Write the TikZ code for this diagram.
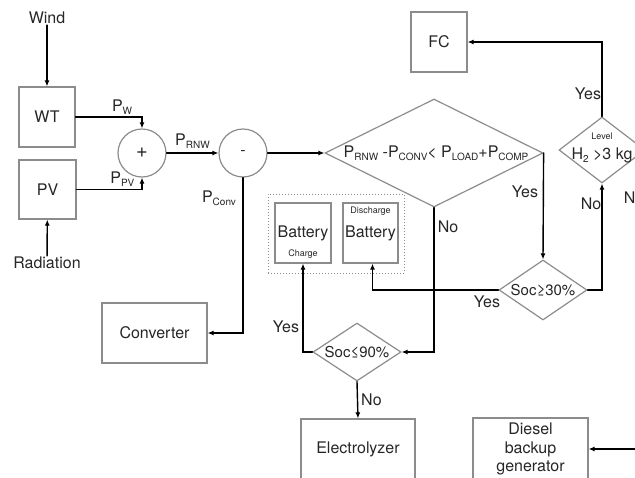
\documentclass[tikz,border=0pt]{standalone}
\usepackage{fontspec}
\setmainfont{TeX Gyre Heros}
\usetikzlibrary{shapes.geometric,arrows.meta}

\tikzset{>={Latex[length=6pt,width=5pt]}}
\colorlet{boxgray}{black!45}
\colorlet{ink}{black!85}
\tikzstyle{block}=[draw=boxgray,line width=1.2pt,inner sep=0pt,text=ink]
\tikzstyle{decision}=[diamond,draw=boxgray,line width=1.2pt,inner sep=0pt,text=ink]
\tikzstyle{junction}=[circle,draw=boxgray,line width=1.2pt,minimum size=48pt,inner sep=0pt,text=ink]
\tikzstyle{flow}=[->,line width=1.4pt,line cap=round]
\tikzstyle{lbl}=[text=ink,inner sep=1pt]
\tikzstyle{tiny}=[text=ink,inner sep=0pt,font=\fontsize{9}{10}\selectfont]
\newcommand{\lsub}[1]{\raisebox{-0.35ex}{\fontsize{10}{10}\selectfont #1}}

\begin{document}
\begin{tikzpicture}[x=1pt,y=-1pt,font=\fontsize{16}{20}\selectfont]
  \useasboundingbox (0,0) rectangle (635,477);
  \clip (0,0) rectangle (635,477);
  % sources
  \node[lbl] (wind) at (47,18) {Wind};
  \node[lbl] (rad) at (47,263) {Radiation};
  \node[block,minimum width=56,minimum height=60] (wt) at (47,117) {WT};
  \node[block,minimum width=57,minimum height=59] (pv) at (47.5,189.5) {PV};
  \node[junction,font=\fontsize{20}{20}\selectfont] (plus) at (142,153) {+};
  \node[junction] (minus) at (243,153) {-};
  \node[block,minimum width=105,minimum height=60] (conv) at (154.5,333) {Converter};
  % decisions
  \node[decision,minimum width=218,minimum height=108] (check) at (434,153) {};
  \node[lbl] at ([xshift=2]check.center) {P\lsub{RNW} -P\lsub{CONV}< P\lsub{LOAD}+P\lsub{COMP}};
  \node[decision,minimum width=88,minimum height=60] (soc30) at (543,290) {};
  \node[lbl,font=\fontsize{15}{15}\selectfont] at (soc30) {Soc≥30\%};
  \node[decision,minimum width=88,minimum height=58] (soc90) at (357,352) {};
  \node[lbl,font=\fontsize{15}{15}\selectfont] at (soc90) {Soc≤90\%};
  \node[decision,minimum width=86,minimum height=66] (h2) at (602,150) {};
  \node[lbl] at ([yshift=-5]h2.center) {H\lsub{2} >3 kg};
  \node[tiny] at ([yshift=14]h2.center) {Level};
  % storage and loads
  \node[block,minimum width=56,minimum height=60] (fc) at (439,42) {FC};
  \node[draw=boxgray,dotted,line width=1pt,minimum width=136,minimum height=79,inner sep=0pt] (batt) at (336,233.5) {};
  \node[block,minimum width=56,minimum height=60] (chg) at (303,233) {Battery};
  \node[tiny] at ([yshift=9]chg.south) {Charge};
  \node[block,minimum width=55,minimum height=60] (dis) at (370.5,233) {Battery};
  \node[tiny] at ([yshift=-9]dis.north) {Discharge};
  \node[block,minimum width=114,minimum height=60] (elec) at (358,449) {Electrolyzer};
  \node[block,minimum width=115,minimum height=62,align=center,font=\fontsize{16}{18.5}\selectfont] (diesel) at (530.5,449) {Diesel\\backup\\generator};
  \coordinate (dieselin) at (645,449);
  % connectors
  \draw[flow] (wind) -- (wt);
  \draw[flow] (rad) -- (pv);
  \draw[flow] (wt.east) -| (plus.north) node[lbl,pos=0.35,above=1] {P\lsub{W}};
  \draw[flow] (pv.east) -| (plus.south) node[lbl,pos=0.35,above=1] {P\lsub{PV}};
  \draw[flow] (plus) -- (minus) node[lbl,midway,above=3] {P\lsub{RNW}};
  \draw[flow] (minus) -- (check.west);
  \draw[flow] (minus.south) |- (conv.east);
  \node[lbl] at (219,198) {P\lsub{Conv}};
  \draw[flow] (check.east) -- (soc30.north);
  \node[lbl] at (525,192) {Yes};
  \draw[flow] (check.south) |- (soc90.east);
  \node[lbl] at (448,227) {No};
  \draw[flow] (soc30.east) -| (h2.south);
  \node[lbl] at (591,204) {No};
  \draw[flow] (h2.north) |- (fc.east);
  \node[lbl] at (588,94) {Yes};
  \node[lbl] at (634,198) {No};
  \draw[flow] (soc30.west) -| ([xshift=2]dis.south);
  \node[lbl] at (487,302) {Yes};
  \draw[flow] (soc90.west) -| (chg.south);
  \node[lbl] at (286,327) {Yes};
  \draw[flow] (soc90.south) -- (elec.north) node[lbl,midway,right=2] {No};
  \draw[flow] (dieselin) -- (diesel.east);
\end{tikzpicture}
\end{document}
